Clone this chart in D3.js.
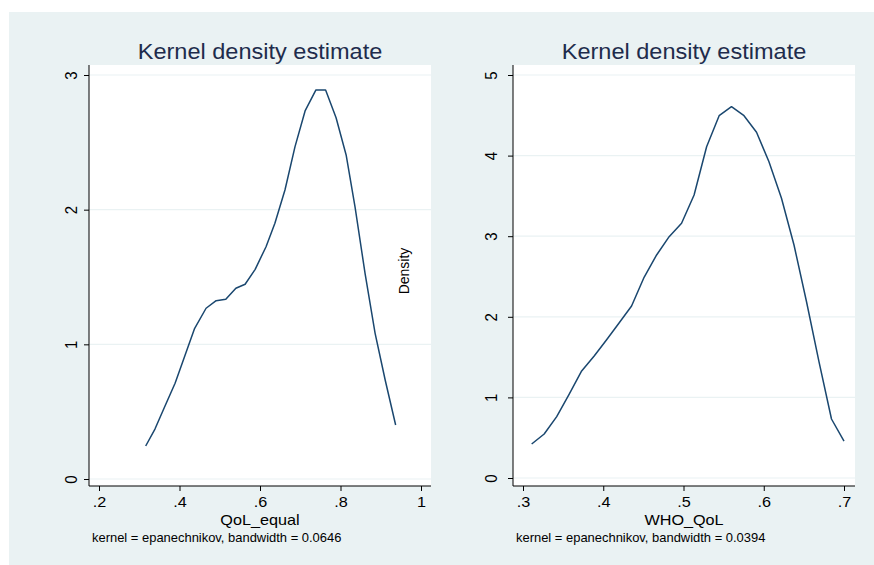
<!DOCTYPE html>
<html>
<head>
<meta charset="utf-8">
<script src="https://cdn.jsdelivr.net/npm/d3@7"></script>
<style>
  html, body { margin: 0; padding: 0; background: #fff; }
  svg { display: block; font-family: "Liberation Sans", Arial, sans-serif; }
</style>
</head>
<body>
<div id="chart"></div>
<script>
// kdensity QoL_equal
const QOL_X = [0.316, 0.339, 0.364, 0.389, 0.414, 0.437, 0.466, 0.491, 0.515, 0.540,
  0.563, 0.588, 0.615, 0.637, 0.662, 0.687, 0.712, 0.739, 0.763, 0.789,
  0.814, 0.836, 0.861, 0.886, 0.911, 0.937];
const QOL_DENSITY = [0.245, 0.371, 0.542, 0.711, 0.92, 1.114, 1.268, 1.324, 1.334, 1.416,
  1.446, 1.557, 1.725, 1.899, 2.146, 2.468, 2.733, 2.889, 2.889, 2.683,
  2.406, 2.022, 1.527, 1.082, 0.735, 0.401];

// kdensity WHO_QoL
const WHO_X = [0.3108, 0.3264, 0.3420, 0.3576, 0.3731, 0.3887, 0.4042, 0.4197, 0.4353, 0.4509,
  0.4665, 0.4821, 0.4976, 0.5132, 0.5288, 0.5444, 0.5598, 0.5754, 0.5910, 0.6065,
  0.6221, 0.6377, 0.6533, 0.6688, 0.6844, 0.7000];
const WHO_DENSITY = [0.422, 0.546, 0.761, 1.042, 1.328, 1.514, 1.716, 1.923, 2.134, 2.490,
  2.767, 2.994, 3.160, 3.511, 4.110, 4.495, 4.607, 4.495, 4.289, 3.924,
  3.470, 2.891, 2.187, 1.443, 0.732, 0.459];

// ticks
const QOL_TICKS_X = [0.2, 0.4, 0.6, 0.8, 1];
const QOL_TICKS_Y = [0, 1, 2, 3];
const WHO_TICKS_X = [0.3, 0.4, 0.5, 0.6, 0.7];
const WHO_TICKS_Y = [0, 1, 2, 3, 4, 5];

const TITLE = "Kernel density estimate";

(function () {
  "use strict";

  const width = 874;
  const height = 565;
  const bgColor = "#eaf2f3";
  const lineColor = "#1a476f";
  const stretch = 1.08; // text in the picture is a bit wide

  const svg = d3.select("#chart")
    .append("svg")
    .attr("width", width)
    .attr("height", height);

  // graph region
  svg.append("rect")
    .attr("x", 9).attr("y", 12)
    .attr("width", width - 9).attr("height", height - 12)
    .attr("fill", bgColor);

  const fmt = (v) => String(v).replace(/^0\./, ".");

  function drawPanel(p) {
    const x = d3.scaleLinear().domain(p.xDomain).range(p.xRange);
    const y = d3.scaleLinear().domain(p.yDomain).range(p.yRange);
    const cx = (p.left + p.right) / 2;

    // plot region
    svg.append("rect")
      .attr("x", p.left).attr("y", p.top)
      .attr("width", p.right - p.left).attr("height", p.bottom - p.top)
      .attr("fill", "#fff");

    // grid
    svg.append("g")
      .selectAll("line")
      .data(p.yTicks)
      .join("line")
      .attr("x1", p.left).attr("x2", p.right)
      .attr("y1", (d) => y(d)).attr("y2", (d) => y(d))
      .attr("stroke", bgColor)
      .attr("stroke-width", 1.2);

    // density line
    svg.append("path")
      .datum(p.xs.map((v, i) => [v, p.ys[i]]))
      .attr("fill", "none")
      .attr("stroke", lineColor)
      .attr("stroke-width", 1.5)
      .attr("stroke-linejoin", "round")
      .attr("d", d3.line().x((d) => x(d[0])).y((d) => y(d[1])));

    // y axis
    const yAxis = svg.append("g")
      .attr("transform", `translate(${p.left},0)`)
      .call(d3.axisLeft(y).tickValues(p.yTicks).tickSize(5).tickSizeOuter(0).tickFormat(fmt));
    yAxis.select(".domain").remove();
    yAxis.selectAll(".tick line").attr("stroke", "#000");
    yAxis.selectAll(".tick text")
      .attr("x", null).attr("dy", null)
      .attr("text-anchor", "middle")
      .attr("font-size", 15)
      .attr("fill", "#000")
      .attr("transform", `translate(${p.yLabelOffset},0) scale(${stretch},1) rotate(-90)`);
    svg.append("line")
      .attr("x1", p.left).attr("x2", p.left)
      .attr("y1", p.top).attr("y2", p.bottom)
      .attr("stroke", "#000");

    // x axis
    const xAxis = svg.append("g")
      .attr("transform", `translate(0,${p.bottom})`)
      .call(d3.axisBottom(x).tickValues(p.xTicks).tickSize(5).tickSizeOuter(0).tickFormat(fmt));
    xAxis.select(".domain").remove();
    xAxis.selectAll(".tick line").attr("stroke", "#000");
    xAxis.selectAll(".tick text")
      .attr("y", 21).attr("dy", null)
      .attr("font-size", 15)
      .attr("fill", "#000")
      .attr("transform", `scale(${stretch},1)`);
    svg.append("line")
      .attr("x1", p.left).attr("x2", p.right)
      .attr("y1", p.bottom).attr("y2", p.bottom)
      .attr("stroke", "#000");

    // title
    svg.append("text")
      .attr("transform", `translate(${cx},59) scale(${stretch},1)`)
      .attr("text-anchor", "middle")
      .attr("font-size", 21.8)
      .attr("fill", "#1e2c4c")
      .text(TITLE);

    // x axis title
    svg.append("text")
      .attr("transform", `translate(${cx},524.5) scale(${stretch},1)`)
      .attr("text-anchor", "middle")
      .attr("font-size", 15)
      .attr("fill", "#000")
      .text(p.xTitle);

    // note
    svg.append("text")
      .attr("transform", `translate(${p.noteX},542) scale(${stretch},1)`)
      .attr("font-size", 12)
      .attr("fill", "#000")
      .text(p.note);
  }

  drawPanel({
    left: 89, right: 431, top: 65, bottom: 486,
    xDomain: [0.2, 1], xRange: [99, 421],
    yDomain: [0, 3], yRange: [479, 75],
    xs: QOL_X, ys: QOL_DENSITY,
    xTicks: QOL_TICKS_X, yTicks: QOL_TICKS_Y,
    yLabelOffset: -12,
    xTitle: "QoL_equal",
    noteX: 92,
    note: "kernel = epanechnikov, bandwidth = 0.0646"
  });

  drawPanel({
    left: 513, right: 855, top: 65, bottom: 486,
    xDomain: [0.3, 0.7], xRange: [523, 844],
    yDomain: [0, 5], yRange: [478, 75],
    xs: WHO_X, ys: WHO_DENSITY,
    xTicks: WHO_TICKS_X, yTicks: WHO_TICKS_Y,
    yLabelOffset: -16,
    xTitle: "WHO_QoL",
    noteX: 516,
    note: "kernel = epanechnikov, bandwidth = 0.0394"
  });

  // y axis title of the second graph sits inside the first one
  svg.append("text")
    .attr("transform", `translate(409,271) scale(${stretch},1) rotate(-90)`)
    .attr("text-anchor", "middle")
    .attr("font-size", 14)
    .attr("fill", "#000")
    .text("Density");
})();
</script>
</body>
</html>
